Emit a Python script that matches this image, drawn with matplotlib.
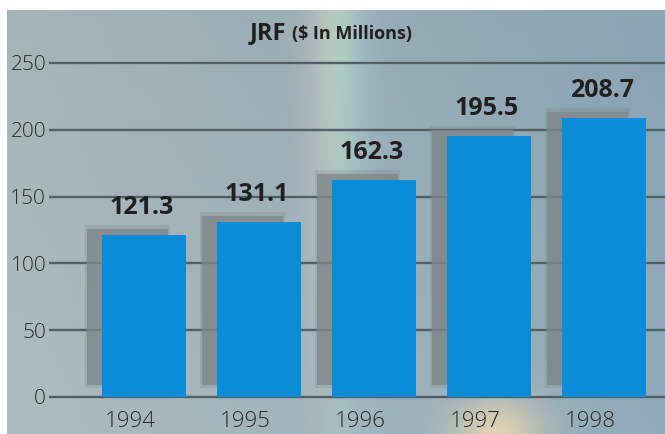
import numpy as np
import matplotlib
matplotlib.use('Agg')
import matplotlib.pyplot as plt
from matplotlib.patches import Rectangle

# data
years = ['1994', '1995', '1996', '1997', '1998']
values = [121.3, 131.1, 162.3, 195.5, 208.7]
yticks = [0, 50, 100, 150, 200, 250]

W, H = 665, 434
fig = plt.figure(figsize=(W / 100, H / 100), dpi=100)
fig.patch.set_facecolor('white')

# background panel (grey-blue with rainbow streak and warm glow at bottom)
bw, bh = 658, 424
xx, yy = np.meshgrid(np.arange(bw), np.arange(bh))
t = xx / bw
img = np.zeros((bh, bw, 3))
left = np.array([0.68, 0.74, 0.75])
right = np.array([0.57, 0.67, 0.73])
for c in range(3):
    img[:, :, c] = left[c] * (1 - t) + right[c] * t
img -= 0.03 * (1 - yy / bh)[:, :, None]
# rainbow streak: whitish haze with a faint colour shift
fade = np.clip(1.15 - yy / 420, 0.3, 1)
haze = np.exp(-((xx - 330) / 30) ** 2) * fade
img += 0.07 * haze[:, :, None]
for c, (cx, amp) in enumerate([(315, 0.06), (332, 0.05), (350, 0.02)]):
    img[:, :, c] += amp * np.exp(-((xx - cx) / 20) ** 2) * fade
img[:, :, 2] -= 0.04 * np.exp(-((xx - 328) / 22) ** 2) * fade
# warm glow bottom
glow = np.exp(-((xx - 490) / 45) ** 2 - ((yy - bh) / 40) ** 2)
img[:, :, 0] += 0.28 * glow
img[:, :, 1] += 0.13 * glow
img[:, :, 2] -= 0.04 * glow
img = np.clip(img, 0, 1)
bg = fig.add_axes([7 / W, 0, bw / W, bh / H])
bg.imshow(img, aspect='auto', interpolation='bilinear')
bg.axis('off')

# main axes: x pixel 49..665, y zero at pixel 397, 1.336 px per unit
ppu = 1.336
spacing = 115.0
x0 = 144.0
ax = fig.add_axes([49 / W, 0, 616 / W, (H - 10) / H])
ax.set_facecolor('none')
ax.set_xlim((49 - x0) / spacing, (665 - x0) / spacing)
ax.set_ylim(-(H - 397) / ppu, (397 - 10) / ppu)
for s in ax.spines.values():
    s.set_visible(False)

for v in yticks:
    ax.axhline(v, color='#7c8a90', lw=3.0, alpha=0.35, zorder=1)
    ax.axhline(v, color='#4a585f', lw=1.3, zorder=1)

ax.set_yticks(yticks)
ax.set_yticklabels([str(v) for v in yticks], fontsize=15, color='#2a2a2a',
                   family='Open Sans', fontweight='light')
ax.tick_params(axis='y', length=0, pad=2)
ax.set_xticks([])

bw_u = 84 / spacing
sh_dx = 15 / spacing
sh_w = 81 / spacing
for i, v in enumerate(values):
    # soft shadow behind the bar
    ax.add_patch(Rectangle((i - bw_u / 2 - sh_dx - 0.02, 7), sh_w + 0.04, v + 0.5,
                           color='#7a8284', alpha=0.25, lw=0, zorder=2))
    ax.add_patch(Rectangle((i - bw_u / 2 - sh_dx, 9), sh_w, v - 4.5,
                           color='#7f8789', alpha=0.75, lw=0, zorder=2))
    ax.bar(i, v, width=bw_u, color='#0b8cd8', zorder=3)
    ax.text(i - 0.02, v + 11, f'{v:.1f}', ha='center', va='bottom',
            fontsize=18, fontweight='bold', family='Open Sans', color='#1f1f1f', zorder=4)
    ax.text(i - 14 / spacing, -18, years[i], ha='center', va='center', fontsize=16,
            family='Open Sans', fontweight='light', color='#262626')

fig.text(286 / W, 1 - 33 / H, 'JRF', ha='right', va='center', fontsize=17,
         fontweight='bold', family='Open Sans', color='#1f1f1f')
fig.text(292 / W, 1 - 34 / H, '($ In Millions)', ha='left', va='center', fontsize=13,
         fontweight='bold', family='Open Sans', color='#1f1f1f')

fig.savefig('out.png', dpi=100)
